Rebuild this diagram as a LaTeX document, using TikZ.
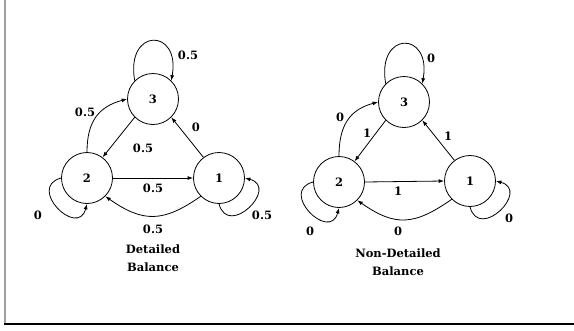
\documentclass[tikz,border=0pt]{standalone}
\usepackage{fontspec}
\setmainfont{DejaVu Serif}
\usetikzlibrary{arrows.meta}
\begin{document}
\begin{tikzpicture}[x=1pt,y=-1pt,
  state/.style={circle,draw,line width=0.8pt,minimum size=51pt,inner sep=0pt,
    font=\fontsize{11.5}{13}\selectfont\bfseries},
  lbl/.style={inner sep=0pt,font=\fontsize{11.5}{13}\selectfont\bfseries},
  caption/.style={align=center,inner sep=0pt,font=\fontsize{11.5}{17.5}\selectfont\bfseries},
  edge/.style={line width=0.8pt,-{Latex[length=5.5pt,width=4pt]}}]
\useasboundingbox (0,0) rectangle (574,330);

% frame
\draw[line width=2pt,gray!75] (5,0) -- (5,324);
\draw[line width=1.4pt] (4,324) -- (574,324);

% ---- detailed balance chain ----
\node[state] (a3) at (153,99) {3};
\node[state] (a2) at (87,178) {2};
\node[state] (a1) at (219,178) {1};

\draw[edge] (a3.135) to[out=100,in=80,distance=54pt] (a3.45);
\draw[edge] (a2.180) to[out=195,in=255,distance=36pt] (a2.270);
\draw[edge] (a1.270) to[out=285,in=345,distance=36pt] (a1.0);
\draw[edge] (a2.90) to[out=90,in=195,distance=30pt] (a3.180);
\draw[edge] (a3.225) -- (a2.53);
\draw[edge] (a1.127) -- (a3.315);
\draw[edge] (a2.0) -- (a1.180);
\draw[edge] (a1.225) to[out=215,in=325,distance=46pt] (a2.315);

\node[lbl] (a33) at (188,55) {0.5};
\node[lbl] (a23) at (85,112) {0.5};
\node[lbl] (a13) at (196,127) {0};
\node[lbl] (a32) at (143,148) {0.5};
\node[lbl] (a21) at (153,188) {0.5};
\node[lbl] (a12) at (153,229) {0.5};
\node[lbl] (a22) at (38,215) {0};
\node[lbl] (a11) at (262,215) {0.5};
\node[caption] (acap) at (153,258) {Detailed\\Balance};

% ---- non-detailed balance chain ----
\node[state] (b3) at (404,102) {3};
\node[state] (b2) at (339,182) {2};
\node[state] (b1) at (470,181) {1};

\draw[edge] (b3.135) to[out=100,in=80,distance=54pt] (b3.45);
\draw[edge] (b2.180) to[out=195,in=255,distance=36pt] (b2.270);
\draw[edge] (b1.270) to[out=285,in=345,distance=36pt] (b1.0);
\draw[edge] (b2.90) to[out=90,in=195,distance=30pt] (b3.180);
\draw[edge] (b3.225) -- (b2.53);
\draw[edge] (b1.127) -- (b3.315);
\draw[edge] (b2.0) -- (b1.180);
\draw[edge] (b1.225) to[out=215,in=325,distance=46pt] (b2.315);

\node[lbl] (b33) at (431,58) {0};
\node[lbl] (b23) at (340,117) {0};
\node[lbl] (b32) at (367,133) {1};
\node[lbl] (b13) at (448,136) {1};
\node[lbl] (b21) at (398,191) {1};
\node[lbl] (b12) at (398,231) {0};
\node[lbl] (b22) at (310,231) {0};
\node[lbl] (b11) at (509,218) {0};
\node[caption] (bcap) at (398,262) {Non-Detailed\\Balance};
\end{tikzpicture}
\end{document}
